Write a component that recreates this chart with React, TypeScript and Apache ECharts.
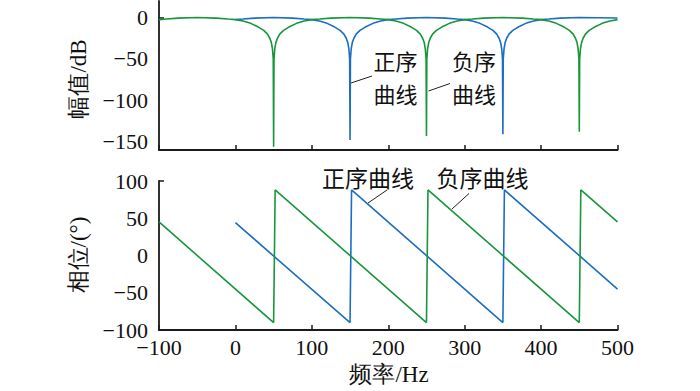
import React, { useEffect, useRef } from "react";
import * as echarts from "echarts";

// Frequency axis ticks (Hz)
const freqTicks = [-100, 0, 100, 200, 300, 400, 500];
const magTickLabels = [-150, -100, -50, 0];
const phaseTickLabels = [-100, -50, 0, 50, 100];

// Magnitude (dB) — positive-sequence curve (blue): [Hz, dB]
const magPositive: [number, number][] = [
  [0, -2.5], [10, -1.8], [25, -0.7], [50, 0], [75, -0.7], [90, -1.8], [100, -2.5],
  [110, -4.2], [120, -7], [130, -11.5], [137, -15.5], [142, -20], [145, -25], [147, -30],
  [148.5, -38], [149.5, -50], [150, -148], [150.5, -50], [151.5, -38], [153, -30], [155, -25],
  [158, -20], [163, -15.5], [170, -11.5], [180, -7], [190, -4.2], [200, -2.5], [210, -1.8],
  [225, -0.7], [250, 0], [275, -0.7], [290, -1.8], [300, -2.5], [310, -4.2], [320, -7],
  [330, -11.5], [337, -15.5], [342, -20], [345, -25], [347, -30], [348.5, -38], [349.5, -50],
  [350, -141], [350.5, -50], [351.5, -38], [353, -30], [355, -25], [358, -20], [363, -15.5],
  [370, -11.5], [380, -7], [390, -4.2], [400, -2.5], [410, -1.8], [425, -0.7], [450, 0],
  [475, -0.2], [500, -0.5],
];

// Magnitude (dB) — negative-sequence curve (green): [Hz, dB]
const magNegative: [number, number][] = [
  [-100, -2.5], [-90, -1.8], [-75, -0.7], [-50, 0], [-25, -0.7], [-10, -1.8], [0, -2.5],
  [10, -4.2], [20, -7], [30, -11.5], [37, -15.5], [42, -20], [45, -25], [47, -30],
  [48.5, -38], [49.5, -50], [50, -156], [50.5, -50], [51.5, -38], [53, -30], [55, -25],
  [58, -20], [63, -15.5], [70, -11.5], [80, -7], [90, -4.2], [100, -2.5], [110, -1.8],
  [125, -0.7], [150, 0], [175, -0.7], [190, -1.8], [200, -2.5], [210, -4.2], [220, -7],
  [230, -11.5], [237, -15.5], [242, -20], [245, -25], [247, -30], [248.5, -38], [249.5, -50],
  [250, -143], [250.5, -50], [251.5, -38], [253, -30], [255, -25], [258, -20], [263, -15.5],
  [270, -11.5], [280, -7], [290, -4.2], [300, -2.5], [310, -1.8], [325, -0.7], [350, 0],
  [375, -0.7], [390, -1.8], [400, -2.5], [410, -4.2], [420, -7], [430, -11.5], [437, -15.5],
  [442, -20], [445, -25], [447, -30], [448.5, -38], [449.5, -50], [450, -138], [450.5, -50],
  [451.5, -38], [453, -30], [455, -25], [458, -20], [463, -15.5], [470, -11.5], [480, -7],
  [490, -4.2], [500, -2.5],
];

// Phase (°): [Hz, deg]
const phasePositive: [number, number][] = [
  [0, 44], [150, -90], [152, 88], [350, -90], [352, 88], [500, -45],
];
const phaseNegative: [number, number][] = [
  [-100, 45], [50, -90], [52, 88], [250, -90], [252, 88], [450, -90], [452, 88], [500, 45],
];

const BLUE = "#1b6ec2";
const GREEN = "#17963c";
const AXIS = "#1a1a1a";
const SERIF = "Liberation Serif";
const CJK = "Noto Sans CJK SC";

const minus = (v: number) => String(v).replace("-", "\u2212");

export default function App() {
  const ref = useRef<HTMLDivElement>(null);
  useEffect(() => {
    if (!ref.current) return;
    const chart = echarts.init(ref.current, null, { renderer: "svg" });
    const axisLine = { show: true, onZero: false, lineStyle: { color: AXIS, width: 1.8 } };
    const tick = (vals: number[]) => ({
      show: true, inside: true, length: 5, lineStyle: { color: AXIS, width: 1.5 }, customValues: vals,
    });
    const label = (vals: number[], margin: number) => ({
      show: true, margin, color: "#111", fontSize: 22, fontFamily: SERIF,
      customValues: vals, formatter: minus,
    });
    const left = 159;
    const width = 458.5;
    const txt = (text: string, x: number, y: number, family: string, size = 23, rotation = 0) => ({
      type: "text", x, y, rotation,
      style: {
        text, fontSize: size, fontFamily: family, fill: "#111",
        align: "center", verticalAlign: "middle",
      },
    });
    const leader = (x1: number, y1: number, x2: number, y2: number) => ({
      type: "line", shape: { x1, y1, x2, y2 }, style: { stroke: "#222", lineWidth: 1 },
    });
    chart.setOption({
      animation: false,
      backgroundColor: "#ffffff",
      grid: [
        { left, top: 1, width, height: 149 },
        { left, top: 181, width, height: 149 },
      ],
      xAxis: [
        {
          type: "value", gridIndex: 0, min: -100, max: 500, interval: 100,
          axisLine, splitLine: { show: false }, axisTick: tick(freqTicks),
          axisLabel: { show: false },
        },
        {
          type: "value", gridIndex: 1, min: -100, max: 500, interval: 100,
          axisLine, splitLine: { show: false }, axisTick: tick(freqTicks),
          axisLabel: label(freqTicks, 6),
        },
      ],
      yAxis: [
        {
          type: "value", gridIndex: 0, min: -160, max: 20,
          axisLine, splitLine: { show: false }, axisTick: tick([0]),
          axisLabel: label(magTickLabels, 11),
        },
        {
          type: "value", gridIndex: 1, min: -100, max: 100, interval: 50,
          axisLine, splitLine: { show: false }, axisTick: tick([100]),
          axisLabel: label(phaseTickLabels, 11),
        },
      ],
      series: [
        {
          type: "line", xAxisIndex: 0, yAxisIndex: 0, data: magPositive, showSymbol: false,
          lineStyle: { color: BLUE, width: 1.6 }, itemStyle: { color: BLUE },
        },
        {
          type: "line", xAxisIndex: 0, yAxisIndex: 0, data: magNegative, showSymbol: false,
          lineStyle: { color: GREEN, width: 1.6 }, itemStyle: { color: GREEN },
        },
        {
          type: "line", xAxisIndex: 1, yAxisIndex: 1, data: phasePositive, showSymbol: false,
          lineStyle: { color: BLUE, width: 1.6 }, itemStyle: { color: BLUE },
        },
        {
          type: "line", xAxisIndex: 1, yAxisIndex: 1, data: phaseNegative, showSymbol: false,
          lineStyle: { color: GREEN, width: 1.6 }, itemStyle: { color: GREEN },
        },
      ],
      graphic: [
        txt("幅值/dB", 78, 79, SERIF, 23, Math.PI / 2),
        txt("相位/(°)", 78, 255, SERIF, 23, Math.PI / 2),
        txt("频率/Hz", 389, 374, SERIF, 23),
        txt("正序", 395.5, 59.5, CJK, 22),
        txt("曲线", 395.5, 92.5, CJK, 22),
        txt("负序", 474, 59.5, CJK, 22),
        txt("曲线", 474, 92.5, CJK, 22),
        leader(351, 83, 372, 76),
        leader(428.5, 91, 450, 83.5),
        txt("正序曲线", 368, 177, CJK, 23),
        txt("负序曲线", 482.5, 177, CJK, 23),
        leader(368, 203, 387, 190),
        leader(452, 209, 469, 193.5),
      ],
    });
    return () => chart.dispose();
  }, []);
  return (
    <div
      ref={ref}
      style={{ position: "fixed", left: 0, top: 0, width: 700, height: 391, background: "#fff" }}
    />
  );
}
